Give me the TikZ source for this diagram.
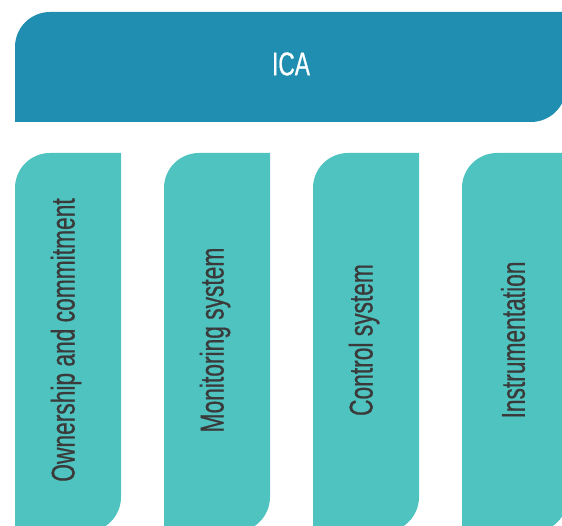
\documentclass[tikz,border=0pt]{standalone}
\usepackage{fontspec}
\setmainfont[FakeStretch=0.69, FakeBold=0.6]{Liberation Sans}
\definecolor{icablue}{RGB}{31,142,176}
\definecolor{icateal}{RGB}{79,195,192}
\definecolor{icatext}{RGB}{58,58,58}
\begin{document}
\begin{tikzpicture}[x=1pt, y=1pt,
    headtext/.style={font=\fontsize{33}{36}\selectfont, text=white},
    coltext/.style={font=\fontsize{33}{36}\selectfont, text=icatext, rotate=90}]
    \clip (0,0) rectangle (562,526);

    % top bar
    \fill[icablue] (15,404) -- (15,479) arc[start angle=180, end angle=90, radius=35]
        -- (566,514) -- (566,439) arc[start angle=0, end angle=-90, radius=35] -- cycle;
    \node[headtext] (ica) at (291,462) {ICA};

    % columns
    \foreach \x in {15,164,313,462} {
        \fill[icateal] (\x,-6) -- (\x,338) arc[start angle=180, end angle=90, radius=35]
            -- (\x+106,373) -- (\x+106,29) arc[start angle=0, end angle=-90, radius=35] -- cycle;
    }

    \node[coltext] (owner) at (66,186) {Ownership and commitment};
    \node[coltext] (monitor) at (215,186) {Monitoring system};
    \node[coltext] (control) at (364,186) {Control system};
    \node[coltext] (instrument) at (513,186) {Instrumentation};
\end{tikzpicture}
\end{document}
